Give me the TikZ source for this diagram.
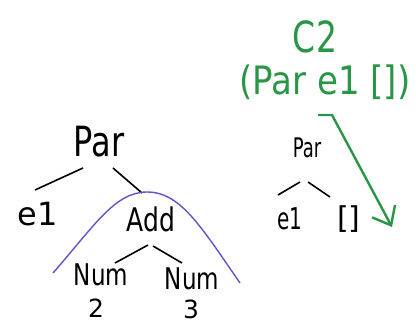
\documentclass[tikz,border=0pt]{standalone}
\usepackage{fontspec}
\setmainfont{DejaVu Sans}
\usepackage{xcolor}
\usepackage{graphicx}
\usetikzlibrary{arrows.meta,positioning}
\definecolor{inkgreen}{RGB}{40,150,70}
\definecolor{inkblue}{RGB}{95,85,200}
\newcommand{\tall}[2][1.3]{\scalebox{1}[#1]{#2}}

\begin{document}
\begin{tikzpicture}[x=1pt,y=-1pt,
  every node/.style={inner sep=1pt},
  big/.style={font=\fontsize{32}{32}\selectfont},
  mid/.style={font=\fontsize{25}{25}\selectfont},
  sml/.style={font=\fontsize{20}{20}\selectfont},
  grn/.style={text=inkgreen,font=\fontsize{33}{33}\selectfont},
  edge/.style={line width=1.6pt},
  hole/.style={draw=inkblue,line width=1.4pt},
  move/.style={draw=inkgreen,line width=2.4pt,-{Straight Barb[length=16pt,width=26pt,line width=2.4pt]}}
]
\useasboundingbox (0,0) rectangle (416,325);
% left tree
\node[big] (par) at (99,142) {\tall{Par}};
\node[big] (ea) at (38,214) {e1};
\node[mid] (add) at (151,219) {\tall{Add}};
\node[mid,font=\fontsize{23}{23}\selectfont] (numa) at (101,275) {\tall{Num}};
\node[mid,font=\fontsize{23}{23}\selectfont] (numb) at (192,279) {\tall{Num}};
\node[mid] (two) at (96,308) {2};
\node[mid] (three) at (191,309) {3};
\draw[edge] ([shift={(-16,26)}]par.center) -- ([shift={(-3,-24)}]ea.center);
\draw[edge] ([shift={(14,26)}]par.center) -- ([shift={(-9,-26)}]add.center);
\draw[edge] ([shift={(-3,26)}]add.center) -- ([shift={(14,-12)}]numa.center);
\draw[edge] ([shift={(2,27)}]add.center) -- ([shift={(-10,-16)}]numb.center);
% the context hole
\draw[hole] (53,273) .. controls (95,225) and (115,192) .. (147,192)
  .. controls (180,192) and (200,225) .. (240,283);
% right tree
\node[grn] (ctx) at (315,37) {\tall{C2}};
\node[grn,font=\fontsize{34}{34}\selectfont] (expr) at (325,82) {\tall[1.15]{(Par e1 [])}};
\node[sml,font=\fontsize{18}{18}\selectfont] (parb) at (307,148) {\tall[1.5]{Par}};
\node[sml] (eb) at (290,219) {\tall[1.5]{e1}};
\node[mid,font=\fontsize{30}{30}\selectfont] (empty) at (349,219) {[]};
\draw[edge] ([shift={(-7,34)}]parb.center) -- ([shift={(-12,-24)}]eb.center);
\draw[edge] ([shift={(1,34)}]parb.center) -- ([shift={(-19,-22)}]empty.center);
\coordinate (hook) at ([shift={(-7,33)}]expr.center);
\coordinate (tip) at ([shift={(43,8)}]empty.center);
\draw[move] (hook) -- ++(14,0) -- (tip);
\end{tikzpicture}
\end{document}
